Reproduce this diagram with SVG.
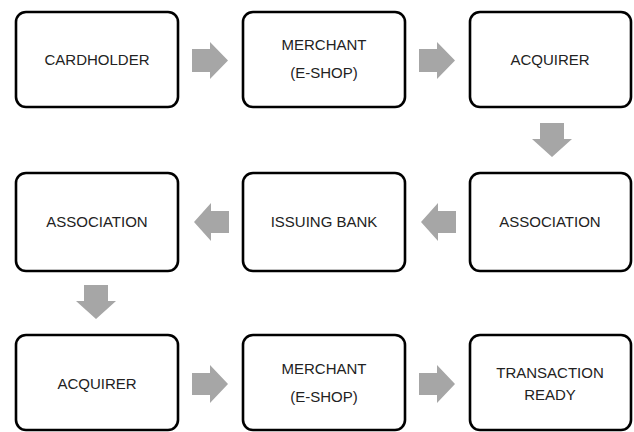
<svg xmlns="http://www.w3.org/2000/svg" width="634" height="432" viewBox="0 0 634 432">
<style>
.box{fill:#fff;stroke:#000;stroke-width:2.6}
.t{font-family:"Liberation Sans",Arial,sans-serif;font-size:15px;fill:#222;text-anchor:middle}
.arr{fill:#a6a6a6}
</style>
<rect width="634" height="432" fill="#fff"/>
<g id="connectors">
<polygon class="arr" points="192,49 210,49 210,42 228,60.5 210,79 210,72 192,72"/>
<polygon class="arr" points="419,49 437,49 437,42 455,60.5 437,79 437,72 419,72"/>
<polygon class="arr" points="540,123 564,123 564,139 572,139 552,157 532,139 540,139"/>
<polygon class="arr" points="456,211 438,211 438,203 421,222 438,241 438,233 456,233"/>
<polygon class="arr" points="229,211 211,211 211,203 194,222 211,241 211,233 229,233"/>
<polygon class="arr" points="84,285 108,285 108,301 116,301 96,319 76,301 84,301"/>
<polygon class="arr" points="192,373 210,373 210,365 228,384 210,403 210,395 192,395"/>
<polygon class="arr" points="419,373 437,373 437,365 455,384 437,403 437,395 419,395"/>
</g>
<g id="n1"><rect class="box" x="16" y="12" width="162" height="95" rx="10"/><text class="t" x="97" y="65">CARDHOLDER</text></g>
<g id="n2"><rect class="box" x="243" y="12" width="162" height="95" rx="10"/><text class="t" x="324" y="50">MERCHANT</text><text class="t" x="324" y="78">(E-SHOP)</text></g>
<g id="n3"><rect class="box" x="470" y="12" width="161" height="95" rx="10"/><text class="t" x="550" y="65">ACQUIRER</text></g>
<g id="n4"><rect class="box" x="470" y="173" width="161" height="98" rx="10"/><text class="t" x="550" y="227">ASSOCIATION</text></g>
<g id="n5"><rect class="box" x="243" y="173" width="162" height="98" rx="10"/><text class="t" x="324" y="227">ISSUING BANK</text></g>
<g id="n6"><rect class="box" x="16" y="173" width="162" height="98" rx="10"/><text class="t" x="97" y="227">ASSOCIATION</text></g>
<g id="n7"><rect class="box" x="16" y="335" width="162" height="95" rx="10"/><text class="t" x="97" y="389">ACQUIRER</text></g>
<g id="n8"><rect class="box" x="243" y="335" width="162" height="95" rx="10"/><text class="t" x="324" y="374">MERCHANT</text><text class="t" x="324" y="402">(E-SHOP)</text></g>
<g id="n9"><rect class="box" x="470" y="335" width="161" height="95" rx="10"/><text class="t" x="550" y="378">TRANSACTION</text><text class="t" x="550" y="400">READY</text></g>
</svg>
